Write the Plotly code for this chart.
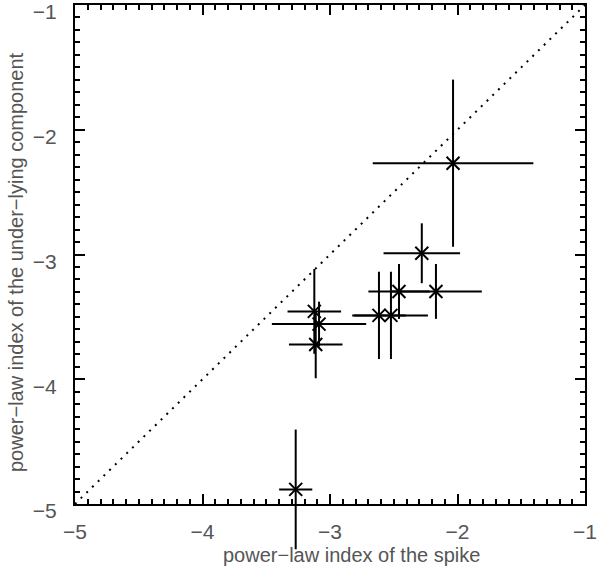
import plotly.graph_objects as go

# spike power-law index (x) vs under-lying component index (y)
x_spike = [-2.035, -2.28, -2.459, -2.169, -2.616, -2.522, -3.123, -3.086, -3.112, -3.269]
y_under = [-2.268, -2.99, -3.296, -3.296, -3.488, -3.488, -3.456, -3.558, -3.722, -4.883]
x_err = [0.63, 0.30, 0.24, 0.36, 0.21, 0.29, 0.21, 0.37, 0.21, 0.13]
y_err = [0.67, 0.24, 0.22, 0.22, 0.35, 0.35, 0.34, 0.18, 0.27, 0.48]
diag = [-5, -1]
axis_range = [-5, -1]

W, H = 600, 569
PL, PR, PT, PB = 75, 585, 5, 504  # plot-area pixel box
px_per_unit = (PB - PT) / (axis_range[1] - axis_range[0])
# second (invisible) axes pair extends into the bottom margin so error bars are not clipped there
y2_low = axis_range[0] - (H - PB) / px_per_unit

fig = go.Figure()
fig.add_trace(go.Scatter(
    x=diag, y=diag, mode="lines", xaxis="x", yaxis="y",
    line=dict(color="black", width=2, dash="2px,6px"),
    showlegend=False, hoverinfo="skip",
))
fig.add_trace(go.Scatter(
    x=x_spike, y=y_under, mode="markers", xaxis="x2", yaxis="y2",
    marker=dict(symbol="x-thin-open", size=13, color="black",
                line=dict(color="black", width=2)),
    error_x=dict(type="data", array=x_err, visible=True, color="black", thickness=2, width=0),
    error_y=dict(type="data", array=y_err, visible=True, color="black", thickness=2, width=0),
    cliponaxis=False, showlegend=False,
))

axis_common = dict(
    range=axis_range, dtick=1, tick0=-5,
    showgrid=False, zeroline=False, automargin=False,
    showline=True, linecolor="black", linewidth=2, mirror="allticks",
    ticks="inside", ticklen=10, tickwidth=2, tickcolor="black",
    minor=dict(ticks="inside", dtick=0.1, ticklen=5, tickwidth=1.5, tickcolor="black"),
    tickfont=dict(family="Liberation Sans", size=21, color="#555555"),
    ticklabeloverflow="allow",
)
fig.update_layout(
    xaxis=dict(**axis_common, domain=[PL / W, PR / W], anchor="y", ticklabelstandoff=8),
    yaxis=dict(**axis_common, domain=[1 - PB / H, 1 - PT / H], anchor="x",
               ticklabelstandoff=12, ticklabelshift=7),
    xaxis2=dict(range=axis_range, domain=[PL / W, PR / W], anchor="y2",
                visible=False, showgrid=False, zeroline=False, automargin=False),
    yaxis2=dict(range=[y2_low, axis_range[1]], domain=[0, 1 - PT / H], anchor="x2",
                visible=False, showgrid=False, zeroline=False, automargin=False),
)

fig.add_annotation(text="power−law index of the spike", xref="paper", yref="paper",
                   x=351 / W, y=1 - 555 / H, xanchor="center", yanchor="middle", showarrow=False,
                   font=dict(family="Liberation Sans", size=20, color="#555555"))
fig.add_annotation(text="power−law index of the under−lying component", xref="paper", yref="paper",
                   x=16 / W, y=1 - 262 / H, xanchor="center", yanchor="middle", showarrow=False,
                   textangle=-90,
                   font=dict(family="Liberation Sans", size=20, color="#555555"))

fig.update_layout(
    width=W, height=H,
    margin=dict(l=0, r=0, t=0, b=0, autoexpand=False),
    plot_bgcolor="rgba(0,0,0,0)", paper_bgcolor="white",
)
fig.write_html("out.html", config={"displayModeBar": False},
               post_script="document.body.style.margin='0';")
